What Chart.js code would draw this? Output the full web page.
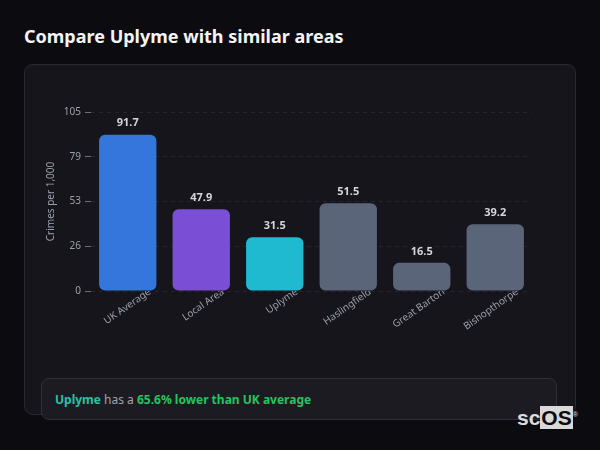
<!DOCTYPE html>
<html>
<head>
<meta charset="utf-8">
<script src="https://cdn.jsdelivr.net/npm/chart.js@4.4.1/dist/chart.umd.min.js"></script>
<style>
  html, body { margin: 0; padding: 0; background: #0c0b10; width: 600px; height: 450px; overflow: hidden; font-family: 'Noto Sans', 'Open Sans', sans-serif; }
  h1 { position: absolute; left: 24px; top: 24px; margin: 0; font-size: 18px; font-weight: 700; color: #f4f4f6; }
  .card { position: absolute; left: 24px; top: 64px; width: 550px; height: 349px; background: #16151b; border: 1px solid #2a2930; border-radius: 9px; }
  .chartWrap { position: absolute; left: 24px; top: 64px; width: 552px; height: 310px; }
  .summary { position: absolute; left: 41px; top: 378px; width: 516px; height: 42px; background: #1c1b21; border: 1px solid #302f36; border-radius: 8px; box-sizing: border-box; font-size: 12px; line-height: 42px; padding-left: 13px; color: #a3a3ad; }
  .summary .place { color: #21c4a6; font-weight: 700; }
  .summary .diff { color: #22c55e; font-weight: 700; }
  .logo { position: absolute; left: 517px; top: 408px; font-family: 'Liberation Sans', Arial, sans-serif; font-weight: 700; font-size: 21px; color: #dcdcdc; line-height: 20px; }
  .logo .os { background: #d9d9d9; color: #0c0b10; padding: 0 1px; }
  .logo sup { font-size: 7px; color: #c8c8c8; vertical-align: top; position: relative; top: -3px; }
</style>
</head>
<body>
<h1>Compare Uplyme with similar areas</h1>
<div class="card"></div>
<div class="chartWrap"><canvas id="crimeChart"></canvas></div>
<div class="summary"><span class="place">Uplyme</span> has a <span class="diff">65.6% lower than UK average</span></div>
<div class="logo">sc<span class="os">OS</span><sup>®</sup></div>
<script>
const categories = ['UK Average', 'Local Area', 'Uplyme', 'Haslingfield', 'Great Barton', 'Bishopthorpe'];
const crimeRates = [91.7, 47.9, 31.5, 51.5, 16.5, 39.2];
const barColors = ['#3576dc', '#7b4fd5', '#1fb9d0', '#5a6579', '#5a6579', '#5a6579'];
const yMax = 105;
const yStep = 26.25;

const valueLabels = {
  id: 'valueLabels',
  afterDatasetsDraw: (chart) => {
    const ctx = chart.ctx;
    const meta = chart.getDatasetMeta(0);
    ctx.save();
    ctx.font = 'bold 11px "Noto Sans", sans-serif';
    ctx.fillStyle = '#d4d4dc';
    ctx.textAlign = 'center';
    ctx.textBaseline = 'bottom';
    meta.data.forEach((bar, i) => {
      ctx.fillText(crimeRates[i].toFixed(1), bar.x, bar.y - 6);
    });
    ctx.restore();
  }
};

new Chart(document.getElementById('crimeChart').getContext('2d'), {
  type: 'bar',
  data: {
    labels: categories,
    datasets: [{
      label: 'Crimes per 1,000',
      data: crimeRates,
      backgroundColor: barColors,
      borderRadius: 6,
      borderSkipped: false,
      barPercentage: 0.78,
      categoryPercentage: 1
    }]
  },
  options: {
    responsive: true,
    maintainAspectRatio: false,
    animation: false,
    layout: { padding: { left: 21, right: 44, top: 48, bottom: 0 } },
    plugins: {
      legend: { display: false },
      tooltip: { enabled: false }
    },
    scales: {
      x: {
        grid: { display: false },
        border: { display: false },
        afterFit: (scale) => { scale.height = 83; },
        ticks: {
          color: '#9aa0ab',
          font: { size: 10, family: '"Noto Sans", sans-serif' },
          minRotation: 35,
          maxRotation: 35,
          labelOffset: 22,
          padding: -13
        }
      },
      y: {
        min: 0,
        max: yMax,
        afterFit: (scale) => { scale.width = 46; },
        afterBuildTicks: (scale) => {
          const ticks = [];
          for (let v = 0; v <= yMax + 0.01; v += yStep) ticks.push({ value: v });
          scale.ticks = ticks;
        },
        grid: {
          color: 'rgba(255,255,255,0.07)',
          tickColor: '#6b6e78',
          tickLength: 6
        },
        border: { display: false, dash: [4, 4] },
        ticks: {
          color: '#9aa0ab',
          font: { size: 10, family: '"Noto Sans", sans-serif' },
          padding: 4,
          callback: value => Math.round(value)
        },
        title: {
          display: true,
          text: 'Crimes per 1,000',
          color: '#9aa0ab',
          font: { size: 10, family: '"Noto Sans", sans-serif' },
          padding: { top: 0, bottom: 4 }
        }
      }
    }
  },
  plugins: [valueLabels]
});
</script>
</body>
</html>
